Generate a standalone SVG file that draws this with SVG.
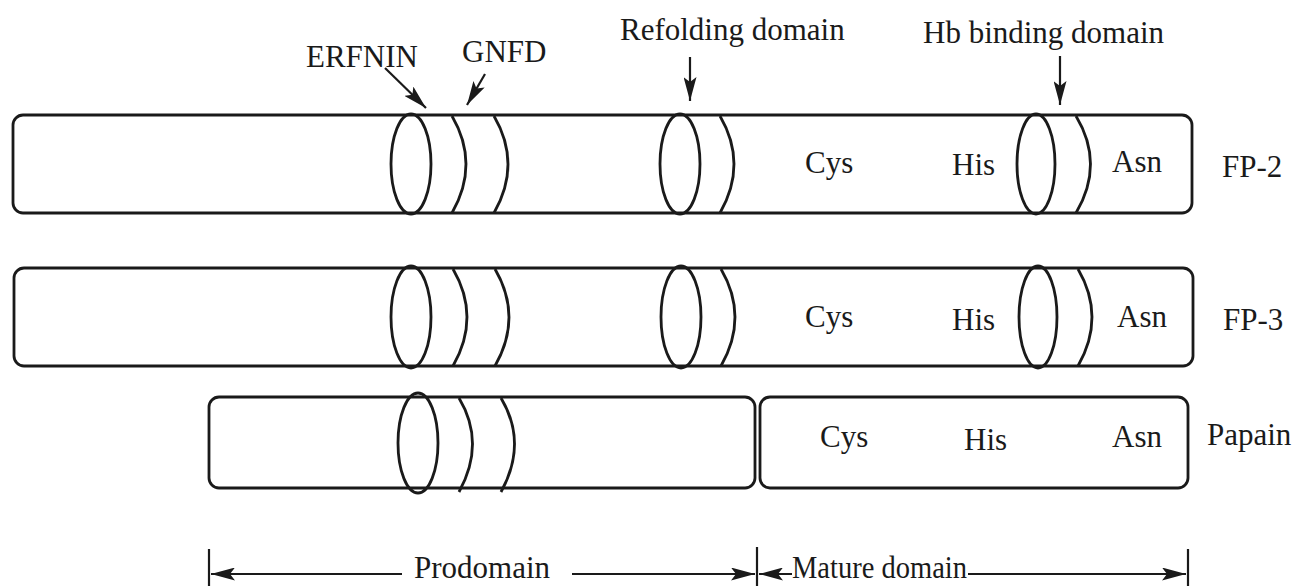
<svg xmlns="http://www.w3.org/2000/svg" width="1296" height="586" viewBox="0 0 1296 586">
  <style>
    .box { fill: none; stroke: #1a1a1a; stroke-width: 2.8; }
    .ring { fill: none; stroke: #1a1a1a; stroke-width: 2.8; }
    .conn { fill: none; stroke: #1a1a1a; stroke-width: 2.2; }
    .tick { stroke: #1a1a1a; stroke-width: 2.2; }
    text { font-family: "Liberation Serif", "Times New Roman", serif; font-size: 31px; fill: #1a1a1a; }
  </style>
  <defs>
    <marker id="head" viewBox="0 0 24 13" refX="24" refY="6.5" markerWidth="24" markerHeight="13" markerUnits="userSpaceOnUse" orient="auto-start-reverse">
      <path d="M0,0 L24,6.5 L0,13 L5,6.5 Z" fill="#1a1a1a"/>
    </marker>
  </defs>

  <rect width="1296" height="586" fill="#ffffff"/>

  <!-- FP-2 -->
  <g id="fp2">
    <rect class="box" x="13" y="115" width="1179" height="98" rx="10"/>
    <ellipse class="ring" cx="411" cy="164" rx="20" ry="50"/>
    <path class="ring" d="M452,116 Q480,164 452,213"/>
    <path class="ring" d="M494,116 Q522,164 494,213"/>
    <ellipse class="ring" cx="680" cy="164" rx="20" ry="50"/>
    <path class="ring" d="M720,116 Q748,164 720,213"/>
    <ellipse class="ring" cx="1036" cy="164" rx="19" ry="50"/>
    <path class="ring" d="M1076,116 Q1105,164 1076,213"/>
    <text x="805" y="173">Cys</text>
    <text x="952" y="175">His</text>
    <text x="1112" y="172">Asn</text>
    <text x="1222" y="177">FP-2</text>
  </g>

  <!-- FP-3 -->
  <g id="fp3">
    <rect class="box" x="14" y="268" width="1179" height="98" rx="10"/>
    <ellipse class="ring" cx="411" cy="317" rx="20" ry="51"/>
    <path class="ring" d="M453,269 Q481,317 453,366"/>
    <path class="ring" d="M495,269 Q523,317 495,366"/>
    <ellipse class="ring" cx="681" cy="317" rx="20" ry="51"/>
    <path class="ring" d="M721,269 Q749,317 721,366"/>
    <ellipse class="ring" cx="1038" cy="317" rx="19" ry="51"/>
    <path class="ring" d="M1078,269 Q1106,317 1078,366"/>
    <text x="805" y="327">Cys</text>
    <text x="952" y="330">His</text>
    <text x="1117" y="327">Asn</text>
    <text x="1223" y="330">FP-3</text>
  </g>

  <!-- Papain: prodomain and mature domain -->
  <g id="papain-pro">
    <rect class="box" x="209" y="397" width="546" height="91" rx="10"/>
    <ellipse class="ring" cx="418" cy="443" rx="20" ry="50"/>
    <path class="ring" d="M459,398 Q486,443 459,492"/>
    <path class="ring" d="M501,398 Q528,443 501,492"/>
  </g>
  <g id="papain-mature">
    <rect class="box" x="760" y="397" width="428" height="91" rx="10"/>
    <text x="820" y="447">Cys</text>
    <text x="964" y="450">His</text>
    <text x="1112" y="447">Asn</text>
    <text x="1207" y="445">Papain</text>
  </g>

  <!-- Feature labels -->
  <g id="labels">
    <text x="306" y="67">ERFNIN</text>
    <text x="462" y="62">GNFD</text>
    <text x="620" y="40">Refolding domain</text>
    <text x="923" y="43">Hb binding domain</text>
  </g>

  <!-- Pointer arrows and domain spans -->
  <g id="connectors">
    <line class="conn" x1="385" y1="68" x2="426" y2="108" marker-end="url(#head)"/>
    <line class="conn" x1="485" y1="74" x2="467" y2="105" marker-end="url(#head)"/>
    <line class="conn" x1="690" y1="57" x2="690" y2="101" marker-end="url(#head)"/>
    <line class="conn" x1="1060" y1="56" x2="1060" y2="105" marker-end="url(#head)"/>

    <line class="tick" x1="209" y1="549" x2="209" y2="586"/>
    <line class="tick" x1="757" y1="547" x2="757" y2="586"/>
    <line class="tick" x1="1188" y1="549" x2="1188" y2="586"/>

    <line class="conn" x1="402" y1="574" x2="211" y2="574" marker-end="url(#head)"/>
    <line class="conn" x1="572" y1="574" x2="755" y2="574" marker-end="url(#head)"/>
    <line class="conn" x1="792" y1="574" x2="759" y2="574" marker-end="url(#head)"/>
    <line class="conn" x1="968" y1="574" x2="1186" y2="574" marker-end="url(#head)"/>
  </g>
  <g id="span-labels">
    <text x="414" y="578">Prodomain</text>
    <text x="792" y="578" textLength="175" lengthAdjust="spacingAndGlyphs">Mature domain</text>
  </g>
</svg>
